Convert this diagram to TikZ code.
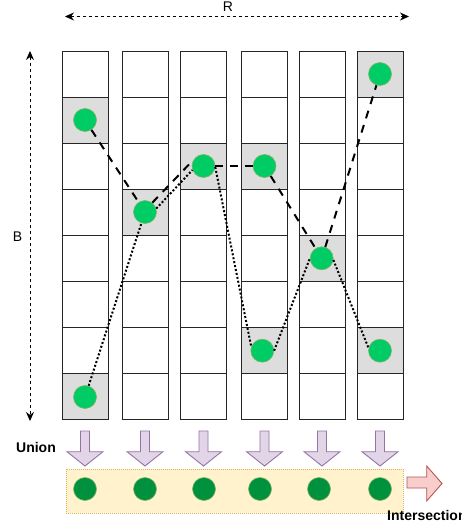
\documentclass[tikz,border=0pt]{standalone}
\usepackage{fontspec}
\setmainfont{Liberation Sans}
\usetikzlibrary{arrows.meta}
\definecolor{dotfill}{HTML}{00CC66}
\definecolor{dotline}{HTML}{82B366}
\definecolor{darkdot}{HTML}{00913F}
\definecolor{cellgray}{HTML}{DDDDDD}
\definecolor{purfill}{HTML}{E1D5E7}
\definecolor{purline}{HTML}{9673A6}
\definecolor{yelfill}{HTML}{FFF2CC}
\definecolor{yelline}{HTML}{D6B656}
\definecolor{redfill}{HTML}{F8CECC}
\definecolor{redline}{HTML}{B85450}
\begin{document}
\begin{tikzpicture}[x=1pt,y=-1pt,
  cellbox/.style={draw=black!85,line width=0.9pt},
  hicell/.style={cellbox,fill=cellgray},
  gdot/.style={circle,draw=dotline,fill=dotfill,line width=0.6pt,minimum size=23pt,inner sep=0pt},
  ddot/.style={circle,draw=dotline,fill=darkdot,line width=0.6pt,minimum size=23pt,inner sep=0pt},
  dashpath/.style={line width=2pt,dash pattern=on 8pt off 7pt},
  dotpath/.style={line width=2pt,dash pattern=on 2pt off 2pt},
  dimarrow/.style={line width=0.9pt,dash pattern=on 3pt off 3pt,{Stealth[length=9pt,width=8pt]}-{Stealth[length=9pt,width=8pt]}},
  purarrow/.style={draw=purline,fill=purfill,line width=0.9pt},
  txt/.style={font=\fontsize{14}{16}\selectfont,inner sep=0pt},
  btxt/.style={font=\fontsize{14}{16}\selectfont\bfseries,inner sep=0pt}
]
\useasboundingbox (0,0) rectangle (462,527);
\fill[white] (0,0) rectangle (462,527);

% grid cells
\foreach \c/\xl in {1/62,2/122,3/180.5,4/241.5,5/299,6/357}{
  \foreach \r in {1,...,8}{
    \draw[cellbox] (\xl,{51+46*(\r-1)}) rectangle ++(46,46);
  }
}
% highlighted cells
\foreach \xl/\r in {62/2,122/4,180.5/3,241.5/3,299/5,357/1,241.5/7,357/7,62/8}{
  \draw[hicell] (\xl,{51+46*(\r-1)}) rectangle ++(46,46);
}

% green dots
\node[gdot] (a1) at (85,120) {};
\node[gdot] (a2) at (145,212) {};
\node[gdot] (a3) at (203.5,166) {};
\node[gdot] (a4) at (264.5,166) {};
\node[gdot] (a5) at (321.7,258.3) {};
\node[gdot] (a6) at (380,74) {};
\node[gdot] (b1) at (85,397) {};
\node[gdot] (b4) at (262.3,350.7) {};
\node[gdot] (b6) at (380,350.7) {};

% dashed path
\draw[dashpath] (a1) -- (a2);
\draw[dashpath] (a2.52) -- (a3.148);
\draw[dashpath] (a3) -- (a4);
\draw[dashpath] (a4) -- (a5);
\draw[dashpath] (a5) -- (a6);

% dotted path
\draw[dotpath] (b1) -- (a2);
\draw[dotpath] (a2.17) -- (a3.200);
\draw[dotpath] (a3.-5) -- (b4.160);
\draw[dotpath] (b4.east) -- (a5.west);
\draw[dotpath] (a5.-8) -- (b6.167);

% dimension arrows
\coordinate (rl) at (65,16.5);
\coordinate (rr) at (409,16.5);
\draw[dimarrow] (rl) -- (rr);
\node[txt] (rlab) at (228,7) {R};
\coordinate (bt) at (30,51);
\coordinate (bb) at (30,421);
\draw[dimarrow] (bt) -- (bb);
\node[txt] (blab) at (17.5,237) {B};

% union arrows
\foreach \x in {85,145,203.5,264.5,322,380}{
  \draw[purarrow] (\x-4.5,431) -- (\x+4.5,431) -- (\x+4.5,451.7) -- (\x+18,451.7)
     -- (\x,466) -- (\x-18,451.7) -- (\x-4.5,451.7) -- cycle;
}
\node[btxt] (union) at (36,447) {Union};

% result band
\draw[draw=yelline,fill=yelfill,line width=0.9pt,dash pattern=on 1pt off 1pt] (66,469) rectangle (403,513);
\foreach \x/\n in {85/1,145/2,204/3,260/4,319/5,380/6}{
  \node[ddot] (r\n) at (\x,489) {};
}

% intersection arrow
\draw[draw=redline,fill=redfill,line width=0.9pt] (407,477) -- (426.7,477) -- (426.7,466) -- (442,483.5)
   -- (426.7,501) -- (426.7,488) -- (407,488) -- cycle;
\node[btxt,anchor=west] (inter) at (387,515) {Intersection};
\end{tikzpicture}
\end{document}
